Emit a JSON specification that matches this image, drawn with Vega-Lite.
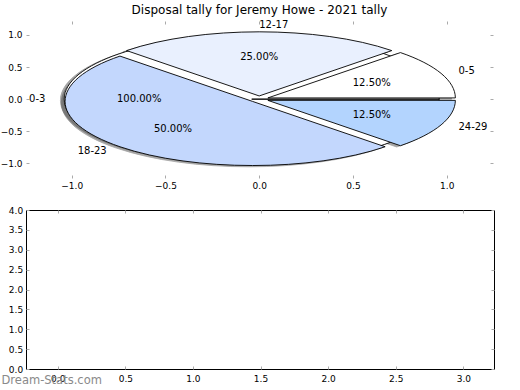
{
  "$schema": "https://vega.github.io/schema/vega-lite/v6.json",
  "background": "white",
  "padding": {"left": 0, "top": 4, "right": 0, "bottom": 0},
  "spacing": 32,
  "bounds": "flush",
  "config": {
    "font": "DejaVu Sans",
    "view": {"stroke": "black", "strokeWidth": 1},
    "axis": {"domain": false, "grid": false, "ticks": true, "tickColor": "#aaaaaa", "tickSize": -3, "tickWidth": 1, "labelFont": "DejaVu Sans", "labelFontSize": 9, "labelColor": "black", "labelFlush": false, "labelOverlap": false},
    "title": {"font": "DejaVu Sans", "fontSize": 12, "fontWeight": "normal", "color": "black"}
  },
  "vconcat": [
    {
      "width": 467,
      "height": 157,
      "view": {"stroke": null},
      "title": {"text": "Disposal tally for Jeremy Howe - 2021 tally", "anchor": "middle", "frame": "group", "offset": 3},
      "data": {"values": [
        {"label": "0-3", "pct": "100.00%", "cx": -0.04, "cy": 0, "lx": -1.14, "ly": 0, "px": -0.64, "py": 0, "side": "right"},
        {"label": "0-5", "pct": "12.50%", "cx": 0.0462, "cy": 0.0191, "lx": 1.0625, "ly": 0.44, "px": 0.6005, "py": 0.2487, "side": "left"},
        {"label": "12-17", "pct": "25.00%", "cx": 0, "cy": 0.05, "lx": 0, "ly": 1.15, "px": 0, "py": 0.65, "side": "left"},
        {"label": "18-23", "pct": "50.00%", "cx": -0.0354, "cy": -0.0354, "lx": -0.8132, "ly": -0.8132, "px": -0.4596, "py": -0.4596, "side": "right"},
        {"label": "24-29", "pct": "12.50%", "cx": 0.0462, "cy": -0.0191, "lx": 1.0625, "ly": -0.44, "px": 0.6005, "py": -0.2487, "side": "left"}
      ]},
      "layer": [
        {
          "mark": {"type": "point", "filled": true, "fill": "#4d4d4d", "stroke": "#4d4d4d", "strokeWidth": 0.8, "opacity": 0.5, "size": 140625, "xOffset": -3.75, "yOffset": 1.28},
          "encoding": {
            "x": {"field": "cx", "type": "quantitative", "scale": {"domain": [-1.2437, 1.2469], "nice": false, "zero": false}, "axis": {"orient": "bottom", "values": [-1, -0.5, 0, 0.5, 1], "format": ".1f", "title": null, "labelPadding": 6}},
            "y": {"field": "cy", "type": "quantitative", "scale": {"domain": [-1.229, 1.218], "nice": false, "zero": false}, "axis": {"orient": "left", "values": [-1, -0.5, 0, 0.5, 1], "format": ".1f", "title": null, "labelPadding": 7}},
            "shape": {"field": "label", "type": "nominal", "scale": {"domain": ["0-3", "0-5", "12-17", "18-23", "24-29"], "range": [
              "M0,0L1,0C1,-0.1889 0.5523,-0.342 0,-0.342C-0.5523,-0.342 -1,-0.1889 -1,0C-1,0.1889 -0.5523,0.342 0,0.342C0.5523,0.342 1,0.1889 1,0Z",
              "M0,0L1,0C1,-0.0907 0.8946,-0.1777 0.7071,-0.2418Z",
              "M0,0L0.7071,-0.2418C0.3166,-0.3753 -0.3166,-0.3753 -0.7071,-0.2418Z",
              "M0,0L-0.7071,-0.2418C-1.0976,-0.1083 -1.0976,0.1083 -0.7071,0.2418C-0.3166,0.3753 0.3166,0.3753 0.7071,0.2418Z",
              "M0,0L0.7071,0.2418C0.8946,0.1777 1,0.0907 1,0Z"
            ]}, "legend": null}
          }
        },
        {
          "mark": {"type": "point", "filled": true, "stroke": "black", "strokeWidth": 0.9, "opacity": 1, "size": 140625},
          "encoding": {
            "x": {"field": "cx", "type": "quantitative", "axis": {"orient": "top", "values": [-1, -0.5, 0, 0.5, 1], "labels": false, "title": null}},
            "y": {"field": "cy", "type": "quantitative", "axis": {"orient": "right", "values": [-1, -0.5, 0, 0.5, 1], "labels": false, "title": null}},
            "shape": {"field": "label", "type": "nominal", "legend": null},
            "fill": {"field": "label", "type": "nominal", "scale": {"domain": ["0-3", "0-5", "12-17", "18-23", "24-29"], "range": ["#ffffff", "#ffffff", "#e9f0fe", "#c3d7fd", "#b3d4fe"]}, "legend": null}
          }
        },
        {
          "transform": [{"filter": "datum.side === 'left'"}],
          "mark": {"type": "text", "align": "left", "baseline": "middle", "fontSize": 10, "font": "DejaVu Sans", "color": "black"},
          "encoding": {
            "x": {"field": "lx", "type": "quantitative", "axis": null},
            "y": {"field": "ly", "type": "quantitative", "axis": null},
            "text": {"field": "label"}
          }
        },
        {
          "transform": [{"filter": "datum.side === 'right'"}],
          "mark": {"type": "text", "align": "right", "baseline": "middle", "fontSize": 10, "font": "DejaVu Sans", "color": "black"},
          "encoding": {
            "x": {"field": "lx", "type": "quantitative", "axis": null},
            "y": {"field": "ly", "type": "quantitative", "axis": null},
            "text": {"field": "label"}
          }
        },
        {
          "mark": {"type": "text", "align": "center", "baseline": "middle", "fontSize": 10, "font": "DejaVu Sans", "color": "black"},
          "encoding": {
            "x": {"field": "px", "type": "quantitative", "axis": null},
            "y": {"field": "py", "type": "quantitative", "axis": null},
            "text": {"field": "pct"}
          }
        }
      ],
      "resolve": {"axis": {"x": "independent", "y": "independent"}}
    },
    {
      "width": 468,
      "height": 159,
      "data": {"values": []},
      "layer": [
        {
          "mark": {"type": "point", "opacity": 0},
          "encoding": {
            "x": {"field": "x", "type": "quantitative", "scale": {"domain": [-0.2345, 3.227], "nice": false, "zero": false}, "axis": {"orient": "bottom", "values": [0, 0.5, 1, 1.5, 2, 2.5, 3], "format": ".1f", "labelPadding": 8.5, "title": "Dream-Stats.com", "titleX": -25, "titleY": 11, "titleAlign": "left", "titleBaseline": "middle", "titleColor": "#8a8a8a", "titleFontSize": 11.5, "titleFontWeight": "normal", "titleFont": "DejaVu Sans"}},
            "y": {"field": "y", "type": "quantitative", "scale": {"domain": [0, 4], "nice": false, "zero": false}, "axis": {"orient": "left", "values": [0, 0.5, 1, 1.5, 2, 2.5, 3, 3.5, 4], "format": ".1f", "title": null, "labelPadding": 6.3}}
          }
        },
        {
          "mark": {"type": "point", "opacity": 0},
          "encoding": {
            "x": {"field": "x", "type": "quantitative", "axis": {"orient": "top", "values": [0, 0.5, 1, 1.5, 2, 2.5, 3], "labels": false, "title": null}},
            "y": {"field": "y", "type": "quantitative", "axis": {"orient": "right", "values": [0, 0.5, 1, 1.5, 2, 2.5, 3, 3.5, 4], "labels": false, "title": null}}
          }
        }
      ],
      "resolve": {"axis": {"x": "independent", "y": "independent"}}
    }
  ]
}
